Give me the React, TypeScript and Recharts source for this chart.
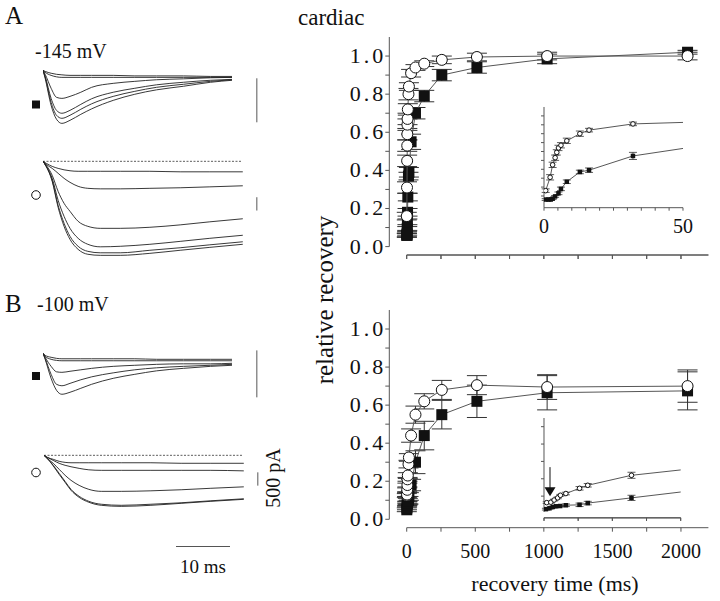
import React from "react";
import {
  ScatterChart, Scatter, XAxis, YAxis, ErrorBar, LineChart, Line, ReferenceLine, ReferenceDot,
} from "recharts";

const FONT = "Liberation Serif";
const AX = "#555";
const INK = "#111";

// ---------- recovery data, -145 mV (panel A) ----------
const tOpenA = [0.6, 2.2, 3.1, 4, 4.6, 5.2, 6.1, 8.2, 12.9, 16.2, 32, 64, 128, 256, 512, 1024, 2048];
const vOpenA = [0.16, 0.31, 0.45, 0.53, 0.59, 0.64, 0.67, 0.72, 0.8, 0.84, 0.91, 0.94, 0.96, 0.98, 0.995, 1.0, 1.0];
const eOpenA = [0.02, 0.03, 0.03, 0.03, 0.03, 0.03, 0.03, 0.03, 0.03, 0.02, 0.02, 0.015, 0.015, 0.02, 0.02, 0.02, 0.02];
const tFillA = [0.6, 1.6, 2.4, 3.1, 4, 5.2, 6.1, 8.2, 12.9, 16.2, 32, 64, 128, 256, 512, 1024, 2048];
const vFillA = [0.06, 0.06, 0.06, 0.07, 0.095, 0.13, 0.18, 0.26, 0.37, 0.39, 0.55, 0.7, 0.79, 0.9, 0.94, 0.985, 1.02];
const eFillA = [0.01, 0.01, 0.01, 0.01, 0.01, 0.015, 0.02, 0.02, 0.02, 0.025, 0.04, 0.03, 0.03, 0.03, 0.03, 0.025, 0.01];

// ---------- recovery data, -100 mV (panel B) ----------
const tOpenB = [1, 2.5, 3.7, 5, 6, 8, 13, 16, 32, 64, 128, 256, 512, 1024, 2048];
const vOpenB = [0.125, 0.13, 0.155, 0.18, 0.21, 0.23, 0.29, 0.325, 0.44, 0.55, 0.62, 0.68, 0.705, 0.695, 0.7];
const eOpenB = [0.01, 0.01, 0.01, 0.01, 0.01, 0.015, 0.02, 0.02, 0.035, 0.045, 0.04, 0.05, 0.05, 0.065, 0.085];
const tFillB = [0.7, 2, 3.2, 4.4, 5.9, 8, 13, 16, 32, 64, 128, 256, 512, 1024, 2048];
const vFillB = [0.05, 0.06, 0.075, 0.083, 0.086, 0.095, 0.1, 0.12, 0.18, 0.3, 0.44, 0.55, 0.62, 0.665, 0.675];
const eFillB = [0.01, 0.01, 0.01, 0.01, 0.01, 0.015, 0.02, 0.02, 0.03, 0.06, 0.075, 0.075, 0.085, 0.09, 0.1];

// ---------- axis ticks ----------
const yTicksMain = [0, 0.1, 0.2, 0.3, 0.4, 0.5, 0.6, 0.7, 0.8, 0.9, 1.0];
const xTicksMain = [0, 250, 500, 750, 1000, 1250, 1500, 1750, 2000];
const xLabelsMain = [0, 500, 1000, 1500, 2000];
const yTicksInsetA = [0.1, 0.2, 0.3, 0.4, 0.5, 0.6, 0.7, 0.8, 0.9, 1.0];
const yTicksInsetB = [0.2, 0.4, 0.6, 0.8, 1.0];
const xTicksInsetA = [0, 5, 10, 15, 20, 25, 30, 35, 40, 45, 50];
const xTicksInsetB = [0, 12.5, 25, 37.5, 50];
const xLabelsInset = [0, 50];

// ---------- current traces (pA), time in ms ----------
const tSq = [0, 0.4, 1.5, 2.5, 3.5, 5, 7, 9, 13, 17, 21, 26, 31, 35];
const sqA = [
  [0, -40, -110, -150, -170, -190, -190, -190, -190, -210, -210, -210, -230, -230],
  [0, -75, -190, -245, -265, -265, -265, -265, -265, -265, -265, -265, -265, -265],
  [0, -150, -675, -1015, -1055, -980, -825, -640, -490, -415, -355, -320, -280, -265],
  [0, -225, -1055, -1505, -1615, -1505, -1280, -1070, -825, -675, -545, -450, -375, -340],
  [0, -265, -1205, -1690, -1805, -1690, -1465, -1260, -980, -790, -640, -525, -415, -355],
  [0, -300, -1315, -1840, -1995, -1880, -1655, -1450, -1130, -900, -735, -600, -450, -375],
];
const sqB = [
  [0, -75, -150, -190, -205, -205, -205, -205, -205, -205, -225, -225, -225, -225],
  [0, -115, -225, -265, -280, -280, -280, -280, -280, -280, -280, -280, -280, -280],
  [0, -150, -490, -695, -715, -675, -620, -565, -490, -450, -415, -395, -395, -375],
  [0, -190, -790, -1165, -1220, -1130, -995, -885, -735, -620, -545, -490, -450, -415],
  [0, -225, -940, -1390, -1540, -1465, -1315, -1165, -940, -790, -660, -565, -490, -450],
];
const tCi = [0, 0.6, 1.7, 2.8, 3.9, 5, 6.5, 8.3, 10.6, 14.3, 19.8, 25.4, 30.9, 37];
const ciA = [
  [0, -75, -190, -265, -320, -355, -375, -375, -375, -375, -375, -395, -395, -395],
  [0, -115, -265, -450, -640, -790, -940, -1015, -1035, -1035, -1015, -995, -960, -920],
  [0, -150, -525, -1130, -1580, -1880, -2255, -2445, -2520, -2520, -2480, -2390, -2275, -2160],
  [0, -190, -640, -1465, -2070, -2520, -2895, -3120, -3215, -3195, -3120, -3010, -2895, -2780],
  [0, -190, -715, -1655, -2330, -2820, -3195, -3385, -3440, -3440, -3345, -3250, -3140, -3025],
  [0, -190, -750, -1730, -2445, -2935, -3310, -3495, -3535, -3535, -3460, -3345, -3235, -3120],
];
const ciB = [
  [0, -75, -150, -225, -265, -280, -280, -280, -280, -280, -280, -300, -300, -300],
  [0, -75, -190, -300, -375, -430, -490, -545, -565, -565, -565, -565, -565, -585],
  [0, -115, -300, -525, -750, -940, -1130, -1280, -1355, -1355, -1335, -1295, -1240, -1185],
  [0, -115, -375, -675, -980, -1280, -1540, -1730, -1840, -1880, -1840, -1785, -1710, -1635],
  [0, -115, -395, -715, -1015, -1315, -1580, -1765, -1880, -1920, -1880, -1805, -1730, -1655],
];
// scale bars (pA)
const barSqA = [-300, -1955];
const barCiA = [-1350, -1850];
const barSqB = [110, -1655];
const barCiB = [-640, -1140];

// ---------- panel geometry (shared by the charts and the axis overlay) ----------
const MAIN_LEFT = 340, MAIN_W = 380, MAIN_YW = 49.3, MAIN_MR = 11.6, MAIN_PADL = 17.4, X_MAX = 2200;
const TOP_TOP = 27, TOP_H = 268, XH = 40;
const INSET_B = { left: 534, top: 407.7, width: 156.7, height: 120, xh: 10 };

const mk = (ts: number[], vs: number[], es: number[]) => ts.map((t, i) => ({ x: t, y: vs[i], e: es[i] }));
const rows = (ts: number[], traces: number[][]) =>
  ts.map((t, i) => {
    const r: any = { t };
    traces.forEach((tr, k) => (r["s" + k] = tr[i]));
    return r;
  });

const openShape = (r: number) => (p: any) => (
  <circle cx={p.cx} cy={p.cy} r={r} fill="#fff" stroke={INK} strokeWidth={1} />
);
const fillShape = (s: number) => (p: any) => (
  <rect x={p.cx - s / 2} y={p.cy - s / 2} width={s} height={s} fill={INK} />
);

const yTickMain = (p: any) => {
  const v = p.payload.value;
  if (Math.round(v * 10) % 2 !== 0) return <g />;
  return (
    <text x={p.x + 5} y={p.y} dy={7} textAnchor="end" fontFamily={FONT} style={{ fontFamily: FONT }}
      fontSize={22} letterSpacing={3} fill={INK}>
      {v.toFixed(1)}
    </text>
  );
};
const makeXTick = (show: boolean) => (p: any) => {
  const v = p.payload.value;
  if (!show || !xLabelsMain.includes(v)) return <g />;
  return (
    <text x={p.x} y={p.y} dy={24} textAnchor="middle" fontFamily={FONT} style={{ fontFamily: FONT }}
      fontSize={20} fill={INK}>
      {v}
    </text>
  );
};
const makeInsetTick = (show: boolean) => (p: any) => {
  const v = p.payload.value;
  if (!show || !xLabelsInset.includes(v)) return <g />;
  return (
    <text x={p.x} y={p.y} dy={20} textAnchor="middle" fontFamily={FONT} style={{ fontFamily: FONT }}
      fontSize={20} fill={INK}>
      {v}
    </text>
  );
};
const yInsetTick = () => <g />;

function MainPanel(props: {
  left: number; top: number; height: number; xh: number; labels: boolean;
  open: any[]; filled: any[];
}) {
  const plotH = props.height - 10 - props.xh;
  return (
    <div style={{ position: "absolute", left: props.left, top: props.top }}>
      <ScatterChart width={MAIN_W} height={props.height} margin={{ top: 10, right: MAIN_MR, bottom: 0, left: 0 }}>
        <XAxis
          type="number" dataKey="x" domain={[0, X_MAX]} ticks={xTicksMain} height={props.xh}
          padding={{ left: MAIN_PADL, right: 0 }} tickSize={4} tickMargin={2}
          axisLine={{ stroke: AX, strokeWidth: 1, strokeDasharray: `0 ${MAIN_PADL} 1000 0` }} tickLine={{ stroke: AX }}
          tick={makeXTick(props.labels)} interval={0}
        />
        <YAxis
          type="number" dataKey="y" domain={[0, 1.1]} ticks={yTicksMain} width={MAIN_YW}
          padding={{ top: 0, bottom: 8.4 }} tickSize={4} tickMargin={4}
          axisLine={{ stroke: AX, strokeDasharray: `${plotH - 8.4} 1000` }} tickLine={{ stroke: AX }}
          tick={yTickMain} interval={0}
        />
        <Scatter data={props.filled} shape={fillShape(11)} line={{ stroke: "#555", strokeWidth: 1 }} isAnimationActive={false}>
          <ErrorBar dataKey="e" direction="y" width={10} stroke="#333" strokeWidth={1} />
        </Scatter>
        <Scatter data={props.open} shape={openShape(5.5)} line={{ stroke: "#555", strokeWidth: 1 }} isAnimationActive={false}>
          <ErrorBar dataKey="e" direction="y" width={10} stroke="#333" strokeWidth={1} />
        </Scatter>
      </ScatterChart>
    </div>
  );
}

function InsetPanel(props: {
  left: number; top: number; width: number; height: number; xh: number; padB: number; yTicks: number[];
  xTicks: number[]; yLineCut: number; labels: boolean; open: any[]; filled: any[]; arrow?: boolean;
}) {
  const plotH = props.height - 10 - props.xh;
  return (
    <div style={{ position: "absolute", left: props.left, top: props.top }}>
      <ScatterChart width={props.width} height={props.height} margin={{ top: 10, right: 10, bottom: 0, left: 0 }}>
        <XAxis
          type="number" dataKey="x" domain={[0, 50]} ticks={props.xTicks} height={props.xh} allowDataOverflow
          tickSize={3} tickMargin={2} axisLine={{ stroke: AX }} tickLine={{ stroke: AX }}
          tick={makeInsetTick(props.labels)} interval={0}
        />
        <YAxis
          type="number" dataKey="y" domain={[0, 1.1]} ticks={props.yTicks} width={10} allowDataOverflow
          padding={{ top: 0, bottom: props.padB }} tickSize={3}
          axisLine={{ stroke: AX, strokeDasharray: `${plotH - props.yLineCut} 1000` }} tickLine={{ stroke: AX }}
          tick={yInsetTick} interval={0}
        />
        <Scatter data={props.filled} shape={fillShape(4.5)} line={{ stroke: "#444", strokeWidth: 0.9 }} isAnimationActive={false}>
          <ErrorBar dataKey="e" direction="y" width={4} stroke="#333" strokeWidth={0.8} />
        </Scatter>
        <Scatter data={props.open} shape={openShape(2.3)} line={{ stroke: "#444", strokeWidth: 0.9 }} isAnimationActive={false}>
          <ErrorBar dataKey="e" direction="y" width={4} stroke="#333" strokeWidth={0.8} />
        </Scatter>
        {props.arrow && (
          <ReferenceDot
            x={2.2} y={0.2} r={0}
            shape={(p: any) => (
              <g>
                <line x1={p.cx} x2={p.cx} y1={p.cy - 29} y2={p.cy - 8} stroke={INK} strokeWidth={1} />
                <path d={`M${p.cx - 5.5},${p.cy - 9} L${p.cx + 5.5},${p.cy - 9} L${p.cx},${p.cy} Z`} fill={INK} />
              </g>
            )}
          />
        )}
      </ScatterChart>
    </div>
  );
}

// axis overlay drawn on top: upper time axis and lower inset time axis, from the same panel geometry
function AxisOverlay() {
  const x0 = MAIN_LEFT + MAIN_YW + MAIN_PADL;
  const pxPerMs = (MAIN_W - MAIN_MR - MAIN_YW - MAIN_PADL) / X_MAX;
  const yTop = TOP_TOP + 10 + (TOP_H - 10 - XH);
  const ix0 = INSET_B.left + 10;
  const iw = INSET_B.width - 20;
  const iy = INSET_B.top + 10 + (INSET_B.height - 10 - INSET_B.xh);
  return (
    <svg width={720} height={601} style={{ position: "absolute", left: 0, top: 0, pointerEvents: "none" }}>
      <line x1={x0} x2={x0 + X_MAX * pxPerMs} y1={yTop} y2={yTop} stroke={AX} strokeWidth={1} />
      {xTicksMain.map((t) => (
        <line key={t} x1={x0 + t * pxPerMs} x2={x0 + t * pxPerMs} y1={yTop} y2={yTop + 4} stroke={AX} strokeWidth={1} />
      ))}
      <line x1={ix0} x2={ix0 + iw} y1={iy} y2={iy} stroke={AX} strokeWidth={1} />
      {xTicksInsetB.map((t) => (
        <line key={t} x1={ix0 + (t / 50) * iw} x2={ix0 + (t / 50) * iw} y1={iy} y2={iy + 3} stroke={AX} strokeWidth={1} />
      ))}
    </svg>
  );
}

function TracePanel(props: {
  left: number; top: number; times: number[]; traces: number[][]; lo: number; bar: number[]; dashed: boolean;
}) {
  const hi = 200;
  const h = (hi - props.lo) / 37.6;
  const data = rows(props.times, props.traces);
  return (
    <div style={{ position: "absolute", left: props.left, top: props.top }}>
      <LineChart width={216} height={h} data={data} margin={{ top: 0, right: 0, bottom: 0, left: 0 }}>
        <XAxis type="number" dataKey="t" domain={[0, 40]} hide />
        <YAxis type="number" domain={[props.lo, hi]} hide />
        {props.dashed && (
          <ReferenceLine segment={[{ x: 0, y: 0 }, { x: 36.8, y: 0 }]} stroke="#333" strokeWidth={0.8} strokeDasharray="2 1.5" />
        )}
        <ReferenceLine segment={[{ x: 39.6, y: props.bar[0] }, { x: 39.6, y: props.bar[1] }]} stroke="#555" strokeWidth={1} />
        {props.traces.map((_, k) => (
          <Line key={k} dataKey={"s" + k} type="monotone" dot={false} stroke="#222" strokeWidth={0.9} isAnimationActive={false} />
        ))}
      </LineChart>
    </div>
  );
}

export default function App() {
  const openA = mk(tOpenA, vOpenA, eOpenA);
  const fillA = mk(tFillA, vFillA, eFillA);
  const openB = mk(tOpenB, vOpenB, eOpenB);
  const fillB = mk(tFillB, vFillB, eFillB);
  const txt = { fontFamily: FONT, fill: INK, style: { fontFamily: FONT } } as any;
  return (
    <div style={{ position: "absolute", left: 0, top: 0, width: 720, height: 601, background: "#fff", fontFamily: FONT }}>
      <svg width={720} height={601} style={{ position: "absolute", left: 0, top: 0 }}>
        <text x={5} y={24} fontSize={25} {...txt}>A</text>
        <text x={5} y={312} fontSize={25} {...txt}>B</text>
        <text x={35} y={58} fontSize={20} {...txt}>-145 mV</text>
        <text x={37} y={311} fontSize={20} {...txt}>-100 mV</text>
        <text x={298} y={25} fontSize={23} {...txt}>cardiac</text>
        <text transform="translate(333,300) rotate(-90)" textAnchor="middle" fontSize={25} {...txt}>relative recovery</text>
        <text x={555} y={591} textAnchor="middle" fontSize={22} {...txt}>recovery time (ms)</text>
        <text transform="translate(280,478) rotate(-90)" textAnchor="middle" fontSize={20} {...txt}>500 pA</text>
        <text x={203} y={573} textAnchor="middle" fontSize={19} {...txt}>10 ms</text>
        <line x1={176} x2={230} y1={546.5} y2={546.5} stroke="#555" strokeWidth={1} />
        <rect x={32} y={100.5} width={8} height={8} fill={INK} />
        <circle cx={36} cy={195} r={4.3} fill="#fff" stroke={INK} strokeWidth={1} />
        <rect x={32} y={372} width={8} height={8} fill={INK} />
        <circle cx={36} cy={472.5} r={4.3} fill="#fff" stroke={INK} strokeWidth={1} />
      </svg>

      <TracePanel left={43} top={64.7} times={tSq} traces={sqA} lo={-2200} bar={barSqA} dashed={false} />
      <TracePanel left={43} top={155.7} times={tCi} traces={ciA} lo={-3700} bar={barCiA} dashed={true} />
      <TracePanel left={43} top={347.7} times={tSq} traces={sqB} lo={-1800} bar={barSqB} dashed={false} />
      <TracePanel left={44} top={449.7} times={tCi} traces={ciB} lo={-2000} bar={barCiB} dashed={true} />

      <MainPanel left={MAIN_LEFT} top={TOP_TOP} height={TOP_H} xh={XH} labels={false} open={openA} filled={fillA} />
      <MainPanel left={MAIN_LEFT} top={300} height={267.7} xh={XH} labels={true} open={openB} filled={fillB} />

      <InsetPanel left={534} top={96.6} width={159} height={140.7} xh={30} padB={2.8} yTicks={yTicksInsetA}
        xTicks={xTicksInsetA} yLineCut={0} labels={true} open={openA} filled={fillA} />
      <InsetPanel left={INSET_B.left} top={INSET_B.top} width={INSET_B.width} height={INSET_B.height} xh={INSET_B.xh}
        padB={4.5} yTicks={yTicksInsetB} xTicks={xTicksInsetB} yLineCut={6} labels={false}
        open={openB} filled={fillB} arrow={true} />

      <AxisOverlay />
    </div>
  );
}
